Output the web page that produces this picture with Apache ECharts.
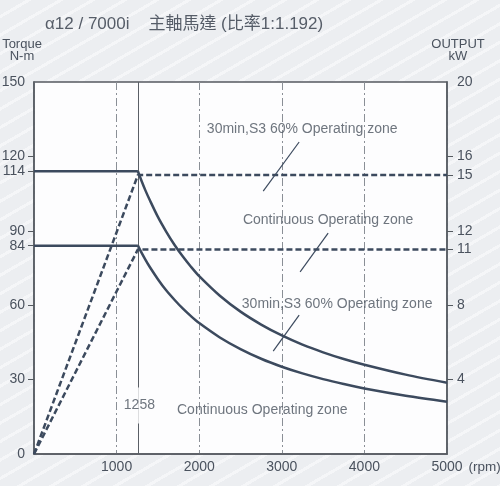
<!DOCTYPE html>
<html><head><meta charset="utf-8">
<script src="https://cdn.jsdelivr.net/npm/echarts@6/dist/echarts.min.js"></script>
<style>
html,body{margin:0;padding:0;}
body{width:500px;height:486px;background:#eceef1;background-image:repeating-linear-gradient(150deg,#eceef1 0px,#eceef1 13px,#f5f6f8 13px,#f5f6f8 16px);}
#c{width:500px;height:486px;}
</style></head>
<body><div id="c"></div>
<script>
// Torque (N-m) vs speed (rpm)
const torqueS3Flat = [[0,114],[1258,114]];
const torqueS3 = [[1258,114],[1300,110.3],[1350,106.2],[1400,102.5],[1500,95.6],[1600,89.7],[1700,84.4],[1800,79.7],[1900,75.5],[2000,71.7],[2250,63.8],[2500,57.4],[2750,52.2],[3000,47.8],[3250,44.1],[3500,41],[3750,38.3],[4000,36],[4500,32],[5000,28.7]];
const torqueContFlat = [[0,84],[1258,84]];
const torqueCont = [[1258,84],[1300,81.3],[1350,78.3],[1400,75.5],[1500,70.5],[1600,66],[1700,62.2],[1800,58.7],[1900,55.6],[2000,52.8],[2250,47],[2500,42.3],[2750,38.4],[3000,35.2],[3250,32.5],[3500,30.2],[3750,28.2],[4000,26.4],[4500,23.5],[5000,21.1]];
// Output (kW) vs speed (rpm)
const powerS3 = [[0,0],[1258,15],[5000,15]];
const powerCont = [[0,0],[1258,11],[5000,11]];
// tick labels
const torqueLabels = [0,30,60,84,90,114,120,150];
const torqueTicks = [30,60,84,90,114,120];
const powerLabels = [4,8,11,12,15,16,20];
const powerTicks = [4,8,11,12,15,16];
const baseSpeed = 1258;
// annotations [rpm, torque, text]
const notes = [
  [3247,131,'30min,S3 60% Operating zone'],
  [3561,94.4,'Continuous Operating zone'],
  [3670,60.5,'30min,S3 60% Operating zone'],
  [2763,17.7,'Continuous Operating zone']
];
const pointers = [
  [[2775,106],[3210,125.8]],
  [[3561,89.1],[3222,73.4]],
  [[3210,56],[2896,41.5]]
];
const speedNote = [1276,19.6,'1258'];

const lineColor = '#3c4a5e';
const textColor = '#4a525e';
const curve = (d, dashed, axis) => ({type: 'line', data: d, yAxisIndex: axis, symbol: 'none', smooth: false,
  lineStyle: {color: lineColor, width: 2.5, type: dashed ? [6,3] : 'solid'}, z: 5});
const chart = echarts.init(document.getElementById('c'));
chart.setOption({
  backgroundColor: 'transparent',
  animation: false,
  textStyle: {fontFamily: 'Liberation Sans, Arial, sans-serif'},
  title: {
    text: 'α12 / 7000i    主軸馬達 (比率1:1.192)',
    left: 40, top: 11,
    textStyle: {fontSize: 17, fontWeight: 'normal', color: '#565d68', fontFamily: 'Liberation Sans, Noto Sans CJK TC, sans-serif'}
  },
  grid: {left: 34, right: 53, top: 82, bottom: 32, outerBoundsMode: 'none', containLabel: false, show: true, backgroundColor: '#fdfdfe', borderColor: '#555a60', borderWidth: 1.5},
  xAxis: {
    type: 'value', min: 0, max: 5000, interval: 1000,
    name: '(rpm)', nameLocation: 'end', nameGap: 19,
    nameTextStyle: {fontSize: 13.5, color: textColor, verticalAlign: 'top', padding: [6,0,0,0]},
    axisLine: {show: true, lineStyle: {color: '#555a60', width: 1.5}},
    axisTick: {show: false},
    axisLabel: {showMinLabel: false, fontSize: 14, color: textColor, margin: 6, formatter: v => String(v)},
    splitLine: {show: true, lineStyle: {color: '#8a8f96', width: 1, type: [8,3,2,3]}}
  },
  yAxis: [{
    type: 'value', min: 0, max: 150,
    name: 'Torque\nN-m', nameLocation: 'end', nameGap: 20,
    nameTextStyle: {fontSize: 13, color: textColor, align: 'center', lineHeight: 12, padding: [0,24,0,0]},
    axisLine: {show: true, lineStyle: {color: '#555a60', width: 1.5}},
    axisTick: {show: true, length: 6, customValues: torqueTicks, lineStyle: {color: '#555a60'}},
    axisLabel: {customValues: torqueLabels, fontSize: 14, color: textColor, margin: 9},
    splitLine: {show: false}
  },{
    type: 'value', min: 0, max: 20, position: 'right',
    name: 'OUTPUT\nkW', nameLocation: 'end', nameGap: 20,
    nameTextStyle: {fontSize: 13, color: textColor, align: 'center', lineHeight: 12, padding: [0,0,0,22]},
    axisLine: {show: true, lineStyle: {color: '#555a60', width: 1.5}},
    axisTick: {show: true, length: 6, customValues: powerTicks, lineStyle: {color: '#555a60'}},
    axisLabel: {customValues: powerLabels, fontSize: 14, color: textColor, margin: 10},
    splitLine: {show: false}
  }],
  series: [
    Object.assign(curve(torqueS3Flat, false, 0), {
      markLine: {silent: true, symbol: 'none', label: {show: false}, lineStyle: {color: '#5a5f66', width: 1, type: 'solid'}, data: [{xAxis: baseSpeed}]}}),
    Object.assign(curve(torqueS3, false, 0), {smooth: 0.3}),
    curve(torqueContFlat, false, 0),
    Object.assign(curve(torqueCont, false, 0), {smooth: 0.3}),
    curve(powerS3, true, 1),
    curve(powerCont, true, 1),
    {type: 'line', data: [], symbol: 'none',
     markLine: {silent: true, symbol: 'none', label: {show: false}, lineStyle: {color: '#3c4a5e', width: 1.2, type: 'solid'},
       data: pointers.map(p => [{coord: p[0]}, {coord: p[1]}])}},
    {type: 'scatter', symbolSize: 0, z: 10,
     data: notes.map(n => ({value: [n[0], n[1]], name: n[2]})),
     label: {show: true, position: 'inside', formatter: '{b}', fontSize: 14, color: textColor}},
    {type: 'scatter', symbolSize: 0, z: 10,
     data: [{value: [speedNote[0], speedNote[1]], name: speedNote[2]}],
     label: {show: true, position: 'inside', formatter: '{b}', fontSize: 14, color: textColor, backgroundColor: '#fdfdfe', padding: [11,3]}}
  ]
});
</script></body></html>
